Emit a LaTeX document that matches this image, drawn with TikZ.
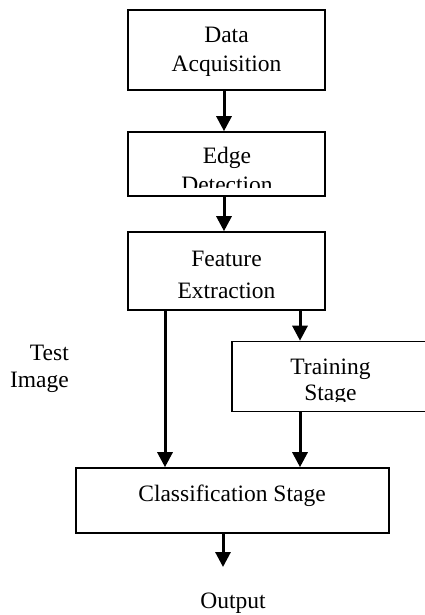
\documentclass[tikz,border=0pt]{standalone}
\usepackage{fontspec}
\setmainfont{Liberation Serif}
\usetikzlibrary{arrows.meta}
\begin{document}
\begin{tikzpicture}[x=1pt,y=-1pt,
  box/.style={draw, line width=1.6pt, rectangle, inner sep=0pt},
  txt/.style={inner sep=0pt, anchor=base, font=\fontsize{23.5}{28}\selectfont},
  arr/.style={line width=3pt, -{Triangle[width=15pt,length=15pt]}}]
\useasboundingbox (0,0) rectangle (425,615);
\clip (0,0) rectangle (425,615);
% boxes
\node[box, minimum width=197pt, minimum height=80pt] (data) at (226.5,50) {};
\node[box, minimum width=197pt, minimum height=64pt] (edge) at (226.5,164) {};
\node[box, minimum width=197pt, minimum height=78pt] (feature) at (226.5,271) {};
\node[box, minimum width=198pt, minimum height=70pt] (train) at (331,376.5) {};
\node[box, minimum width=313pt, minimum height=65pt] (cls) at (232.5,500.5) {};
% texts
\node[txt] (dataA) at (226.5,43) {Data};
\node[txt] (dataB) at (226.5,72) {Acquisition};
\begin{scope}
  \clip (140,140) rectangle (310,187);
  \node[txt] (edgeA) at (227,163) {Edge};
  \node[txt] (edgeB) at (227,192) {Detection};
\end{scope}
\node[txt] (featA) at (226.5,266) {Feature};
\node[txt] (featB) at (226.5,298) {Extraction};
\begin{scope}
  \clip (240,345) rectangle (425,401);
  \node[txt] (trainA) at (330.5,374) {Training};
  \node[txt] (trainB) at (330.5,400) {Stage};
\end{scope}
\node[txt] (clsT) at (232,501.5) {Classification Stage};
\node[txt, anchor=base east] (testA) at (69,360) {Test};
\node[txt, anchor=base east] (testB) at (69,387) {Image};
\node[txt] (out) at (233,608) {Output};
% connectors
\coordinate (mx) at (224,0);
\coordinate (lx) at (165,0);
\coordinate (rx) at (300,0);
\coordinate (ox) at (223,0);
\coordinate (outend) at (223,567);
\draw[arr] (mx |- data.south) -- (mx |- edge.north);
\draw[arr] (mx |- edge.south) -- (mx |- feature.north);
\draw[arr] (lx |- feature.south) -- (lx |- cls.north);
\draw[arr] (rx |- feature.south) -- (rx |- train.north);
\draw[arr] (rx |- train.south) -- (rx |- cls.north);
\draw[arr] (ox |- cls.south) -- (outend);
\end{tikzpicture}
\end{document}
